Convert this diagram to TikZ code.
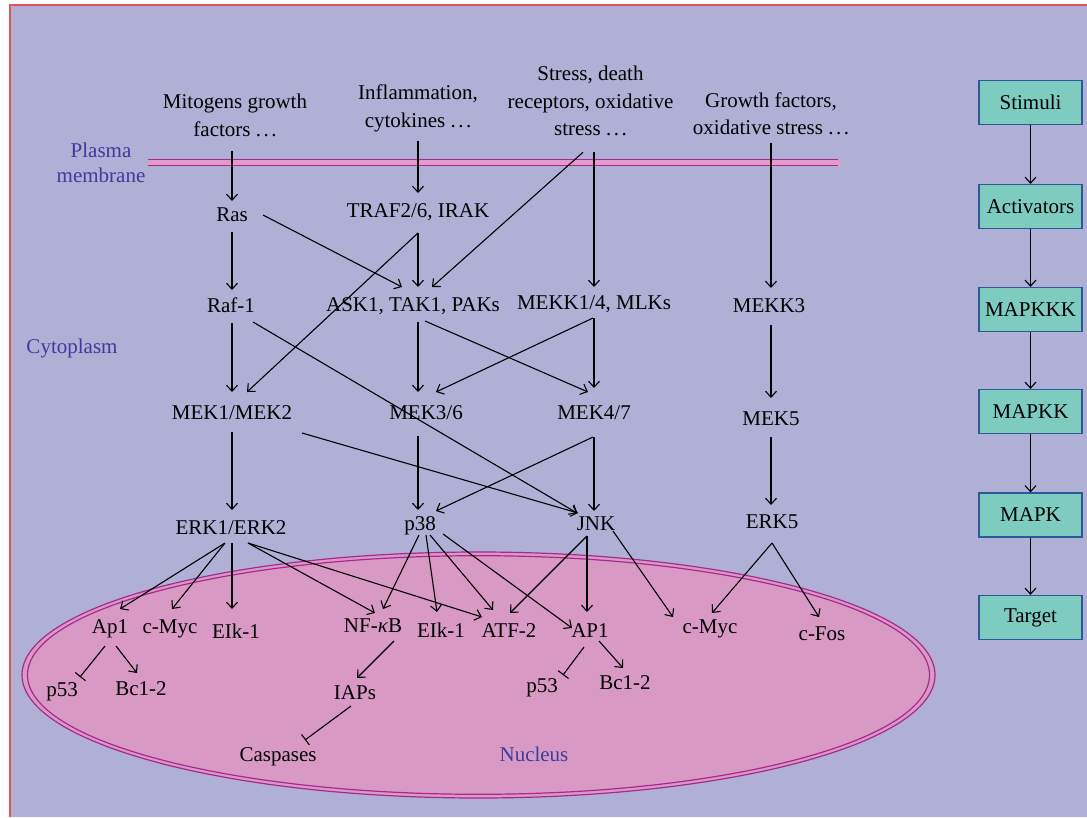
\documentclass[tikz,border=0pt]{standalone}
\usepackage{fontspec}
\setmainfont{Liberation Serif}
\usetikzlibrary{arrows.meta,calc}
\definecolor{bgc}{HTML}{B0AFD6}
\definecolor{nucfill}{HTML}{D89AC4}
\definecolor{magline}{HTML}{A8288F}
\definecolor{memfill}{HTML}{E39ACD}
\definecolor{lblue}{HTML}{3C3C9C}
\definecolor{redb}{HTML}{E8505A}
\definecolor{tealbox}{HTML}{7ECBC0}
\definecolor{boxline}{HTML}{2C5A98}
\tikzset{
  lab/.style={font=\fontsize{21}{27.5}\selectfont, inner sep=0pt, text height=14pt, text depth=0pt},
  mlab/.style={font=\fontsize{21}{27.5}\selectfont, inner sep=0pt, align=center, anchor=north},
  arr/.style={-{Straight Barb[length=6pt,width=11pt]}, line width=1.1pt},
  inh/.style={-{Bar[width=13pt]}, line width=1.1pt},
  stepbox/.style={draw=boxline, fill=tealbox, line width=1.2pt, minimum width=103pt, minimum height=44pt, inner sep=0pt, font=\fontsize{21}{25}\selectfont},
  region/.style={lab, text=lblue}
}
\newcommand{\dotsp}{\ .\kern2.5pt.\kern2.5pt.}
\begin{document}
\begin{tikzpicture}[x=1pt,y=-1pt]
\useasboundingbox (0,0) rectangle (1087,817);
\fill[white] (0,0) rectangle (1087,817);
\fill[bgc] (10,5) rectangle (1087,817);
\draw[redb, line width=1.5pt] (10,817) -- (10,5) -- (1087,5);

% nucleus
\filldraw[fill=nucfill, draw=magline, line width=1.2pt] (478.5,675) ellipse [x radius=456.5, y radius=123];
\draw[magline, line width=1.2pt] (478.5,675) ellipse [x radius=451, y radius=119.3];

% membrane
\fill[memfill] (148,159.5) rectangle (840,165.7);
\draw[magline, line width=1.2pt] (148,159.5) -- (838,159.5) (148,165.7) -- (838,165.7);

% region labels
\node[mlab, text=lblue, font=\fontsize{21}{25}\selectfont] (plasma) at (101,143) {Plasma\\membrane};
\node[region] (cyto) at (72,346) {Cytoplasm};
\node[region] (nucleus) at (534,754) {Nucleus};

% stimuli
\node[mlab] (mito) at (235,94) {Mitogens growth\\factors\dotsp};
\node[mlab] (infl) at (418,85) {Inflammation,\\cytokines\dotsp};
\node[mlab] (stress) at (590.5,66) {Stress, death\\receptors, oxidative\\stress\dotsp};
\node[mlab, font=\fontsize{21}{26.5}\selectfont] (growth) at (771,93) {Growth factors,\\oxidative stress\dotsp};

% nodes
\node[lab] (ras) at (232,214) {Ras};
\node[lab] (traf) at (418,210) {TRAF2/6, IRAK};
\node[lab] (raf) at (231,305) {Raf-1};
\node[lab] (ask) at (413,304) {ASK1, TAK1, PAKs};
\node[lab] (mekk14) at (594,302) {MEKK1/4, MLKs};
\node[lab] (mekk3) at (769,305) {MEKK3};
\node[lab] (mek12) at (232,412) {MEK1/MEK2};
\node[lab] (mek36) at (426,412) {MEK3/6};
\node[lab] (mek47) at (594,412) {MEK4/7};
\node[lab] (mek5) at (771,418) {MEK5};
\node[lab] (erk12) at (231,527) {ERK1/ERK2};
\node[lab] (p38) at (420,523) {p38};
\node[lab] (jnk) at (596,523) {JNK};
\node[lab] (erk5) at (772,521) {ERK5};
\node[lab] (ap1a) at (110,626) {Ap1};
\node[lab] (cmyca) at (170,626) {c-Myc};
\node[lab] (elka) at (236,631) {EIk-1};
\node[lab] (nfkb) at (373,625) {NF-\textit{κ}B};
\node[lab] (elkb) at (441,630) {EIk-1};
\node[lab] (atf2) at (509,630) {ATF-2};
\node[lab] (ap1b) at (590,630) {AP1};
\node[lab] (cmycb) at (710,626) {c-Myc};
\node[lab] (cfos) at (822,633) {c-Fos};
\node[lab] (p53a) at (62,689) {p53};
\node[lab] (bcla) at (141,688) {Bc1-2};
\node[lab] (iaps) at (355,692) {IAPs};
\node[lab] (casp) at (278,754) {Caspases};
\node[lab] (p53b) at (542,685) {p53};
\node[lab] (bclb) at (625,682) {Bc1-2};

% connectors
\draw[arr] ($(mito.south)+(-3,14)$) -- ($(ras)+(0,-13)$);
\draw[arr] ($(infl.south)+(0,8.6)$) -- ($(traf)+(0,-17)$);
\draw[arr] ($(stress.south)+(-7.5,16)$) -- ($(ask)+(19,-17)$);
\draw[arr] ($(stress.south)+(3.5,16)$) -- ($(mekk14)+(0,-15)$);
\draw[arr] ($(growth.south)+(0,8)$) -- ($(mekk3)+(2,-17)$);
\draw[arr] ($(ras)+(31,1)$) -- ($(ask)+(-11,-17)$);
\draw[arr] ($(ras)+(0,18)$) -- ($(raf)+(1,-15)$);
\draw[arr] ($(traf)+(0,23)$) -- ($(ask)+(5,-17)$);
\draw[arr] ($(traf)+(0,23)$) -- ($(mek12)+(15,-20)$);
\draw[arr] ($(raf)+(1,18)$) -- ($(mek12)+(0,-20)$);
\draw[arr] ($(raf)+(22,17)$) -- ($(jnk)+(-19,-10)$);
\draw[arr] ($(ask)+(5,18)$) -- ($(mek36)+(-8,-20)$);
\draw[arr] ($(ask)+(12,17)$) -- ($(mek47)+(-6,-20)$);
\draw[arr] ($(mekk14)+(-1,16)$) -- ($(mek36)+(10,-20)$);
\draw[arr] ($(mekk14)+(0,16)$) -- ($(mek47)+(0,-24)$);
\draw[arr] ($(mekk3)+(2,20)$) -- ($(mek5)+(0,-20)$);
\draw[arr] ($(mek12)+(0,20)$) -- ($(erk12)+(1,-17)$);
\draw[arr] ($(mek12)+(70,21)$) -- ($(jnk)+(-18,-10)$);
\draw[arr] ($(mek36)+(-8,24)$) -- ($(p38)+(-2,-13)$);
\draw[arr] ($(mek47)+(-1,25)$) -- ($(p38)+(16,-12)$);
\draw[arr] ($(mek47)+(0,25)$) -- ($(jnk)+(-2,-12)$);
\draw[arr] ($(mek5)+(0,19)$) -- ($(erk5)+(-1,-16)$);
\draw[arr] ($(erk12)+(-6,16)$) -- ($(ap1a)+(10,-17)$);
\draw[arr] ($(erk12)+(-6,16)$) -- ($(cmyca)+(2,-17)$);
\draw[arr] ($(erk12)+(1,16)$) -- ($(elka)+(-4,-22)$);
\draw[arr] ($(erk12)+(17,16)$) -- ($(nfkb)+(2,-12)$);
\draw[arr] ($(erk12)+(17,16)$) -- ($(atf2)+(-27,-13)$);
\draw[arr] ($(p38)+(-1,12)$) -- ($(nfkb)+(10,-16)$);
\draw[arr] ($(p38)+(6,12)$) -- ($(elkb)+(-4,-18)$);
\draw[arr] ($(p38)+(10,12)$) -- ($(atf2)+(-16,-20)$);
\draw[arr] ($(p38)+(23,11)$) -- ($(ap1b)+(-18,-2)$);
\draw[arr] ($(jnk)+(-9,13)$) -- ($(atf2)+(1,-17)$);
\draw[arr] ($(jnk)+(-9,13)$) -- ($(ap1b)+(-3,-18)$);
\draw[arr] ($(jnk)+(17,8)$) -- ($(cmycb)+(-37,-9)$);
\draw[arr] ($(erk5)+(0,22)$) -- ($(cmycb)+(2,-13)$);
\draw[arr] ($(erk5)+(0,22)$) -- ($(cfos)+(-3,-16)$);
\draw[inh] ($(ap1a)+(-5,20)$) -- ($(p53a)+(18,-12)$);
\draw[arr] ($(ap1a)+(6,20)$) -- ($(bcla)+(-4,-15)$);
\draw[arr] ($(nfkb)+(21,16)$) -- ($(iaps)+(2,-14)$);
\draw[inh] ($(iaps)+(-4,14)$) -- ($(casp)+(27,-14)$);
\draw[inh] ($(ap1b)+(-6,17)$) -- ($(p53b)+(21,-10)$);
\draw[arr] ($(ap1b)+(9,11)$) -- ($(bclb)+(-2,-14)$);

% legend column
\node[stepbox] (s1) at (1030.5,102.5) {Stimuli};
\node[stepbox] (s2) at (1030.5,206.5) {Activators};
\node[stepbox] (s3) at (1030.5,309.5) {MAPKKK};
\node[stepbox] (s4) at (1030.5,411.5) {MAPKK};
\node[stepbox] (s5) at (1030.5,515) {MAPK};
\node[stepbox] (s6) at (1030.5,617.5) {Target};
\foreach \a/\b in {s1/s2,s2/s3,s3/s4,s4/s5,s5/s6}
  \draw[arr] (\a.south) -- (\b.north);
\end{tikzpicture}
\end{document}
